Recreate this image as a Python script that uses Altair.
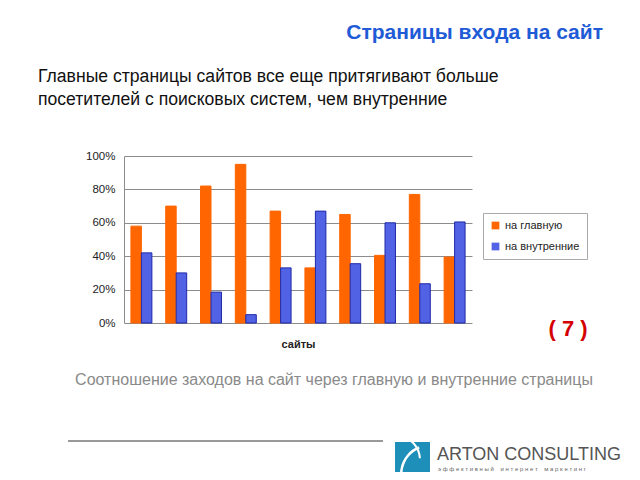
import altair as alt
import pandas as pd

sites = [str(i) for i in range(1, 11)]
series_names = ["на главную", "на внутренние"]
main_vals = [0.58, 0.70, 0.82, 0.95, 0.67, 0.33, 0.65, 0.405, 0.77, 0.395]
inner_vals = [0.42, 0.30, 0.185, 0.05, 0.33, 0.67, 0.355, 0.60, 0.235, 0.605]
y_ticks = [0, 0.2, 0.4, 0.6, 0.8, 1.0]
colors = ["#FF6600", "#5262E4"]

title_text = "Страницы входа на сайт"
sub_lines = ["Главные страницы сайтов все еще притягивают больше",
             "посетителей с поисковых систем, чем внутренние"]
caption = "Соотношение заходов на сайт через главную и внутренние страницы"
page_no = "( 7 )"
x_title = "сайты"
logo_name = "ARTON CONSULTING"
logo_tag = "эффективный интернет маркетинг"

rows = []
for s, a, b in zip(sites, main_vals, inner_vals):
    rows.append({"site": s, "series": series_names[0], "value": a})
    rows.append({"site": s, "series": series_names[1], "value": b})
df = pd.DataFrame(rows)

FONT = "Liberation Sans"
NB = "\u00a0"
tag_spaced = NB.join(NB * 2 if ch == " " else ch for ch in logo_tag)

bars = alt.Chart(df).mark_bar(strokeWidth=1).encode(
    x=alt.X("site:N", sort=sites,
            scale=alt.Scale(paddingInner=0, paddingOuter=0),
            axis=alt.Axis(labels=False, ticks=False, domain=False, title=x_title,
                          titleFont=FONT, titleFontSize=11, titleFontWeight="bold",
                          titleColor="#222", titlePadding=15)),
    xOffset=alt.XOffset("series:N", sort=series_names,
                        scale=alt.Scale(domain=series_names, paddingOuter=0.66, paddingInner=0)),
    y=alt.Y("value:Q", scale=alt.Scale(domain=[0, 1]),
            axis=alt.Axis(values=y_ticks, format=".0%", title=None, ticks=False,
                          labelPadding=9, labelFont=FONT, labelFontSize=11.5,
                          labelColor="#222", grid=True, gridColor="#8c8c8c",
                          domainColor="#8c8c8c")),
    fill=alt.Fill("series:N", sort=series_names,
                  scale=alt.Scale(domain=series_names, range=colors),
                  legend=alt.Legend(orient="none", legendX=359, legendY=57, title=None,
                                    strokeColor="#aaaaaa", fillColor="white", padding=7,
                                    symbolType="square", symbolSize=60,
                                    symbolStrokeWidth=0, labelFont=FONT,
                                    labelFontSize=11, labelColor="#222", rowPadding=9,
                                    labelLimit=200)),
    stroke=alt.Stroke("series:N", sort=series_names,
                      scale=alt.Scale(domain=series_names, range=["#FF6600", "#1f2aa8"]),
                      legend=None),
)

one = pd.DataFrame({"k": [0]})

title = alt.Chart(one).mark_text(text=title_text, font=FONT, fontSize=21,
                                 fontWeight="bold", color="#1f5bd6",
                                 align="right", baseline="middle").encode(
    x=alt.value(479), y=alt.value(-123))

sub1 = alt.Chart(one).mark_text(text=sub_lines[0], font=FONT, fontSize=17.6,
                                color="#111", align="left", baseline="middle").encode(
    x=alt.value(-86), y=alt.value(-79))
sub2 = alt.Chart(one).mark_text(text=sub_lines[1], font=FONT, fontSize=17.6,
                                color="#111", align="left", baseline="middle").encode(
    x=alt.value(-86), y=alt.value(-56))

num = alt.Chart(one).mark_text(text=page_no, font=FONT, fontSize=22, fontWeight="bold",
                               color="#d40000", align="center", baseline="middle").encode(
    x=alt.value(444), y=alt.value(173))

cap = alt.Chart(one).mark_text(text=caption, font=FONT, fontSize=16, color="#8a8a8a",
                               align="center", baseline="middle").encode(
    x=alt.value(210), y=alt.value(224))

hline = alt.Chart(one).mark_rule(color="#777", strokeWidth=1.5).encode(
    x=alt.value(-56), x2=alt.value(259), y=alt.value(285))

logo_box = alt.Chart(one).mark_rect(color="#1d8fb8").encode(
    x=alt.value(271), x2=alt.value(306), y=alt.value(286), y2=alt.value(318))

logo_arc1 = alt.Chart(one).mark_arc(color="white", radius=30, radius2=27.5,
                                    theta=4.0, theta2=5.9).encode(
    x=alt.value(306), y=alt.value(318))
logo_arc2 = alt.Chart(one).mark_arc(color="white", radius=26, radius2=24,
                                    theta=0.2, theta2=1.5).encode(
    x=alt.value(271), y=alt.value(304))

logo_txt = alt.Chart(one).mark_text(text=logo_name, font=FONT,
                                    fontSize=18, color="#555", align="left",
                                    baseline="middle").encode(
    x=alt.value(313), y=alt.value(299))
logo_sub = alt.Chart(one).mark_text(text=tag_spaced,
                                    font=FONT, fontSize=6, color="#666", align="left",
                                    baseline="middle").encode(
    x=alt.value(314), y=alt.value(313))

chart = alt.layer(bars, title, sub1, sub2, num, cap, hline, logo_box, logo_arc1,
                  logo_arc2, logo_txt, logo_sub).properties(
    width=348, height=167,
    padding={"left": 116, "top": 148, "right": 160, "bottom": 149},
    autosize=alt.AutoSizeParams(type="none"),
    background="white",
).configure_view(stroke=None).resolve_scale(fill="shared")

chart.save("out.html", embed_options={"renderer": "svg", "actions": False})
